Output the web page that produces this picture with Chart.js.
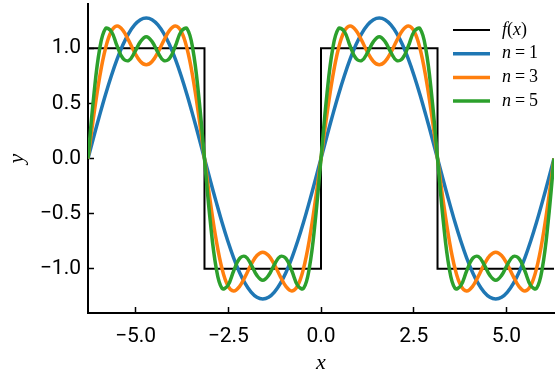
<!DOCTYPE html>
<html>
<head>
<meta charset="utf-8">
<style>
  html, body { margin: 0; padding: 0; background: #fff; }
</style>
<script src="https://cdn.jsdelivr.net/npm/chart.js@4"></script>
</head>
<body>
<canvas id="chart" width="558" height="379"></canvas>
<script>
// sample positions along x (from -2pi to 2pi)
const xs = [
  -6.283, -6.126, -5.969, -5.812, -5.655, -5.498, -5.341, -5.184, -5.027, -4.869, -4.712,
  -4.555, -4.398, -4.241, -4.084, -3.927, -3.770, -3.613, -3.456, -3.299, -3.142,
  -2.985, -2.827, -2.670, -2.513, -2.356, -2.199, -2.042, -1.885, -1.728, -1.571,
  -1.414, -1.257, -1.100, -0.942, -0.785, -0.628, -0.471, -0.314, -0.157, 0,
  0.157, 0.314, 0.471, 0.628, 0.785, 0.942, 1.100, 1.257, 1.414, 1.571,
  1.728, 1.885, 2.042, 2.199, 2.356, 2.513, 2.670, 2.827, 2.985, 3.142,
  3.299, 3.456, 3.613, 3.770, 3.927, 4.084, 4.241, 4.398, 4.555, 4.712,
  4.869, 5.027, 5.184, 5.341, 5.498, 5.655, 5.812, 5.969, 6.126, 6.283
];

const n1 = [
  0, 0.199, 0.393, 0.578, 0.748, 0.900, 1.030, 1.134, 1.211, 1.258, 1.273,
  1.258, 1.211, 1.134, 1.030, 0.900, 0.748, 0.578, 0.393, 0.199, 0,
  -0.199, -0.393, -0.578, -0.748, -0.900, -1.030, -1.134, -1.211, -1.258, -1.273,
  -1.258, -1.211, -1.134, -1.030, -0.900, -0.748, -0.578, -0.393, -0.199, 0,
  0.199, 0.393, 0.578, 0.748, 0.900, 1.030, 1.134, 1.211, 1.258, 1.273,
  1.258, 1.211, 1.134, 1.030, 0.900, 0.748, 0.578, 0.393, 0.199, 0,
  -0.199, -0.393, -0.578, -0.748, -0.900, -1.030, -1.134, -1.211, -1.258, -1.273,
  -1.258, -1.211, -1.134, -1.030, -0.900, -0.748, -0.578, -0.393, -0.199, 0
];

const n3 = [
  0, 0.392, 0.737, 0.997, 1.152, 1.200, 1.161, 1.068, 0.961, 0.879, 0.849,
  0.879, 0.961, 1.068, 1.161, 1.200, 1.152, 0.997, 0.737, 0.392, 0,
  -0.392, -0.737, -0.997, -1.152, -1.200, -1.161, -1.068, -0.961, -0.879, -0.849,
  -0.879, -0.961, -1.068, -1.161, -1.200, -1.152, -0.997, -0.737, -0.392, 0,
  0.392, 0.737, 0.997, 1.152, 1.200, 1.161, 1.068, 0.961, 0.879, 0.849,
  0.879, 0.961, 1.068, 1.161, 1.200, 1.152, 0.997, 0.737, 0.392, 0,
  -0.392, -0.737, -0.997, -1.152, -1.200, -1.161, -1.068, -0.961, -0.879, -0.849,
  -0.879, -0.961, -1.068, -1.161, -1.200, -1.152, -0.997, -0.737, -0.392, 0
];

const n5 = [
  0, 0.572, 0.991, 1.177, 1.152, 1.020, 0.907, 0.888, 0.961, 1.059, 1.103,
  1.059, 0.961, 0.888, 0.907, 1.020, 1.152, 1.177, 0.991, 0.572, 0,
  -0.572, -0.991, -1.177, -1.152, -1.020, -0.907, -0.888, -0.961, -1.059, -1.103,
  -1.059, -0.961, -0.888, -0.907, -1.020, -1.152, -1.177, -0.991, -0.572, 0,
  0.572, 0.991, 1.177, 1.152, 1.020, 0.907, 0.888, 0.961, 1.059, 1.103,
  1.059, 0.961, 0.888, 0.907, 1.020, 1.152, 1.177, 0.991, 0.572, 0,
  -0.572, -0.991, -1.177, -1.152, -1.020, -0.907, -0.888, -0.961, -1.059, -1.103,
  -1.059, -0.961, -0.888, -0.907, -1.020, -1.152, -1.177, -0.991, -0.572, 0
];

// square wave f(x): corners of the step line
const stepX = [-6.283, -3.142, -3.142, 0, 0, 3.142, 3.142, 6.283];
const stepY = [1, 1, -1, -1, 1, 1, -1, -1];

const xTicks = [-5, -2.5, 0, 2.5, 5];
const yTicks = [-1, -0.5, 0, 0.5, 1];

const seriesNames = ["f(x)", "n = 1", "n = 3", "n = 5"];

const pts = (xv, yv) => xv.map((x, i) => ({ x: x, y: yv[i] }));

function fmt(v) {
  return v.toFixed(1).replace("-", "\u2212");
}

// math-ish text: letters italic, the rest upright
function drawMath(ctx, text, x, y, size) {
  ctx.textBaseline = "middle";
  ctx.textAlign = "left";
  ctx.fillStyle = "#000";
  for (const ch of text) {
    if (ch === " ") { x += size * 0.22; continue; }
    ctx.font = (/[a-z]/i.test(ch) ? "italic " : "") + size + "px 'Liberation Serif', serif";
    ctx.fillText(ch, x, y);
    x += ctx.measureText(ch).width;
  }
}

const mathLegend = {
  id: "mathLegend",
  afterDatasetsDraw(chart, args, opts) {
    const ctx = chart.ctx;
    chart.data.datasets.forEach((ds, i) => {
      const y = opts.top + i * opts.rowGap;
      ctx.save();
      ctx.strokeStyle = ds.borderColor;
      ctx.lineWidth = ds.borderWidth;
      ctx.beginPath();
      ctx.moveTo(opts.lineX0, y);
      ctx.lineTo(opts.lineX1, y);
      ctx.stroke();
      drawMath(ctx, ds.label, opts.textX, y, opts.size);
      ctx.restore();
    });
  }
};

const tickFont = { family: "Roboto", size: 21 };
const titleFont = { family: "'Liberation Serif'", size: 22, style: "italic" };

new Chart(document.getElementById("chart"), {
  type: "line",
  data: {
    datasets: [
      { label: seriesNames[0], data: pts(stepX, stepY), borderColor: "#000000", borderWidth: 2, tension: 0, order: 4 },
      { label: seriesNames[1], data: pts(xs, n1), borderColor: "#1f77b4", borderWidth: 3.5, tension: 0.4, order: 3 },
      { label: seriesNames[2], data: pts(xs, n3), borderColor: "#ff7f0e", borderWidth: 3.5, tension: 0.4, order: 2 },
      { label: seriesNames[3], data: pts(xs, n5), borderColor: "#2ca02c", borderWidth: 3.5, tension: 0.4, order: 1 }
    ]
  },
  options: {
    responsive: false,
    animation: false,
    devicePixelRatio: 1,
    layout: { padding: { top: 4, right: 4, left: 0, bottom: 0 } },
    elements: { point: { radius: 0 } },
    plugins: {
      legend: { display: false },
      tooltip: { enabled: false },
      mathLegend: { top: 30, rowGap: 23.7, lineX0: 453, lineX1: 490, textX: 502, size: 18 }
    },
    scales: {
      x: {
        type: "linear",
        min: -6.283,
        max: 6.283,
        afterFit: s => { s.height = 66; s.paddingLeft = 0; s.paddingRight = 0; },
        afterBuildTicks: s => { s.ticks = xTicks.map(v => ({ value: v })); },
        border: { display: true, color: "#000", width: 2 },
        grid: { display: true, drawOnChartArea: false, drawTicks: true, tickLength: -6, tickColor: "#000", tickWidth: 1.5 },
        ticks: { color: "#000", font: tickFont, padding: 17, maxRotation: 0, callback: v => fmt(v) },
        title: { display: true, text: "x", color: "#000", font: titleFont, padding: { top: 0, bottom: 3 } }
      },
      y: {
        type: "linear",
        min: -1.4,
        max: 1.4,
        afterFit: s => { s.width = 88; s.paddingTop = 0; s.paddingBottom = 0; },
        afterBuildTicks: s => { s.ticks = yTicks.map(v => ({ value: v })); },
        border: { display: true, color: "#000", width: 2 },
        grid: { display: true, drawOnChartArea: false, drawTicks: true, tickLength: -6, tickColor: "#000", tickWidth: 1.5 },
        ticks: { color: "#000", font: tickFont, padding: 13, callback: v => fmt(v) },
        title: { display: true, text: "y", color: "#000", font: titleFont, padding: { top: 4, bottom: 0 } }
      }
    }
  },
  plugins: [mathLegend]
});
</script>
</body>
</html>
